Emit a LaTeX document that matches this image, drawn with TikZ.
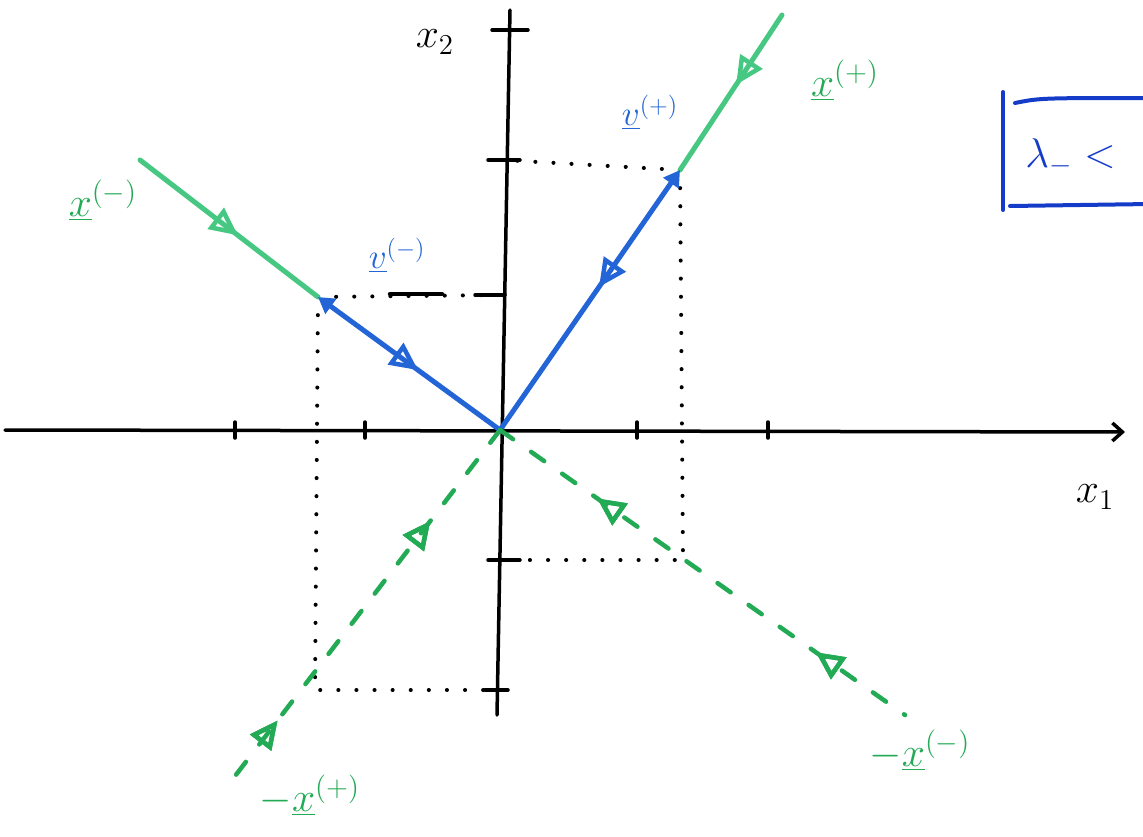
\documentclass[tikz,border=0pt]{standalone}
\usetikzlibrary{arrows.meta,decorations.markings}
\definecolor{lgreen}{RGB}{70,200,130}
\definecolor{dgreen}{RGB}{35,170,85}
\definecolor{vblue}{RGB}{35,100,215}
\definecolor{boxblue}{RGB}{20,60,200}
\tikzset{
  axis/.style={line width=3.5pt, black, line cap=round},
  tickmark/.style={line width=3.5pt, black, line cap=round},
  guide/.style={black, line width=4pt, line cap=round, dash pattern=on 0.1pt off 18pt},
  flow/.style={postaction={decorate}, decoration={markings, mark=at position #1 with {\arrow{Triangle[open,length=28pt,width=26pt,line width=4.5pt]}}}},
  backflow/.style={postaction={decorate}, decoration={markings, mark=at position #1 with {\arrowreversed{Triangle[open,length=28pt,width=26pt,line width=4.5pt]}}}},
  solidgreen/.style={lgreen, line width=5pt, line cap=round},
  dashgreen/.style={dgreen, line width=4.5pt, line cap=round, dash pattern=on 16pt off 22pt},
  vec/.style={vblue, line width=5pt, line cap=round},
  lab/.style={font=\fontsize{20}{24}\selectfont, inner sep=0pt, scale=2},
  smalllab/.style={font=\fontsize{20}{24}\selectfont, inner sep=0pt, scale=1.7}
}
\begin{document}
\begin{tikzpicture}[x=1pt,y=-1pt]
\clip (0,0) rectangle (1143,836);
\fill[white] (0,0) rectangle (1143,836);
% key points
\coordinate (O) at (500,430);
\coordinate (P) at (680,170);
\coordinate (Q) at (318,297);
\coordinate (R) at (683,560);
\coordinate (S) at (315,690);
\coordinate (Ptop) at (782,15);
\coordinate (Qtop) at (140,160);
\coordinate (Rend) at (905,715);
\coordinate (Send) at (232,780);
\coordinate (xl) at (5,430);
\coordinate (xr) at (1125,432);
\coordinate (yb) at (497,715);
\coordinate (yt) at (510,10);
\coordinate (yP) at (503,160);
\coordinate (yQ) at (500,295);
\coordinate (yR) at (500,560);
\coordinate (yS) at (497,690);
% guide lines
\draw[guide] (Q) -- (S) -- (yS);
\draw[guide] (Q) -- (yQ);
\draw[black, line width=4.5pt, line cap=round] (390,294) -- (442,294);
\draw[guide] (P) -- (yP);
\draw[guide] (P) -- (R) -- (yR);
% axes
\draw[axis, -{Straight Barb[length=10pt,width=18pt]}] (xl) -- (xr);
\draw[axis] (yb) -- (yt);
\draw[tickmark] (492,30) -- (528,30);
\foreach \x in {235,365,637,768} \draw[tickmark] (\x,422) -- (\x,438);
\draw[tickmark] (488,160) -- (520,160);
\draw[tickmark] (475,295) -- (505,295);
\draw[tickmark] (488,560) -- (520,560);
\draw[tickmark] (485,690) -- (508,690);
% trajectories
\draw[solidgreen, flow=0.45] (Ptop) -- (P);
\draw[solidgreen, flow=0.55] (Qtop) -- (Q);
\draw[vec, {Triangle[length=16pt,width=18pt]}-, flow=0.45] (P) -- (O);
\draw[vec, {Triangle[length=16pt,width=18pt]}-, flow=0.55] (Q) -- (O);
\draw[dashgreen, backflow=0.24, backflow=0.78] (O) -- (Rend);
\draw[dashgreen, backflow=0.26, backflow=0.83] (O) -- (Send);
% labels
\node[lab, dgreen] (lxm) at (103,200) {$\underline{x}^{(-)}$};
\node[lab, dgreen] (lxp) at (845,80) {$\underline{x}^{(+)}$};
\node[lab, dgreen] (lmxm) at (920,750) {$-\underline{x}^{(-)}$};
\node[lab, dgreen] (lmxp) at (310,795) {$-\underline{x}^{(+)}$};
\node[smalllab, vblue] (lvm) at (397,255) {$\underline{v}^{(-)}$};
\node[smalllab, vblue] (lvp) at (650,112) {$\underline{v}^{(+)}$};
\node[lab] (lx2) at (435,42) {$x_2$};
\node[lab] (lx1) at (1095,497) {$x_1$};
% eigenvalue box (partly cut off)
\draw[boxblue, line width=4pt, line cap=round] (1003,92) -- (1003,210);
\draw[boxblue, line width=4pt, line cap=round] (1015,103) .. controls (1040,98) .. (1150,98);
\draw[boxblue, line width=4pt, line cap=round] (1010,206) -- (1150,204);
\node[lab, boxblue, anchor=west] (lam) at (1025,157) {$\lambda_{-} <$};
\end{tikzpicture}
\end{document}
